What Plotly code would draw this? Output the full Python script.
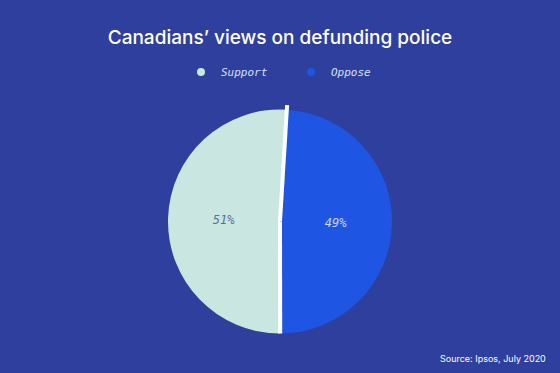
import math
import plotly.graph_objects as go

labels = ["Oppose", "Support"]
values = [49, 51]
colors = ["#1f55e3", "#c9e7e0"]
text_colors = ["#c8d6f2", "#5d6f9c"]
legend_order = ["Support", "Oppose"]
legend_colors = {"Support": "#c9e7e0", "Oppose": "#1f55e3"}

W, H = 560, 373
bg = "#2f3f9d"
mono = "DejaVu Sans Mono"
rotation = 3.5

dom_x = [0.3, 0.7]
dom_y = [1 - 334 / H, 1 - 109 / H]

fig = go.Figure()
fig.add_trace(go.Pie(
    labels=labels, values=values, sort=False, direction="clockwise", rotation=rotation,
    marker=dict(colors=colors, line=dict(width=0)),
    texttemplate="%{percent:.0%}", textposition="inside",
    insidetextorientation="horizontal",
    textfont=dict(family=mono, size=12, color=text_colors, style="italic"),
    showlegend=False, hoverinfo="label+percent",
    domain=dict(x=dom_x, y=dom_y),
))
for name in legend_order:
    fig.add_trace(go.Scatter(
        x=[None], y=[None], mode="markers", name=name,
        marker=dict(symbol="circle", size=8, color=legend_colors[name]),
    ))

# white separator lines along the slice boundaries (derived from the data)
cx = (dom_x[0] + dom_x[1]) / 2 * W
cy = (1 - (dom_y[0] + dom_y[1]) / 2) * H
r = min((dom_x[1] - dom_x[0]) * W, (dom_y[1] - dom_y[0]) * H) / 2
total = sum(values)
shapes = []
angle = rotation
for i, v in enumerate(values):
    rr = r * (1.04 if i == 0 else 1.0)
    a = math.radians(angle)
    px = cx + rr * math.sin(a)
    py = cy - rr * math.cos(a)
    shapes.append(dict(type="line", xref="paper", yref="paper",
                       x0=cx / W, y0=1 - cy / H, x1=px / W, y1=1 - py / H,
                       line=dict(color="white", width=4)))
    angle += 360 * v / total

fig.update_layout(
    width=W, height=H,
    margin=dict(l=0, r=0, t=0, b=0),
    paper_bgcolor=bg, plot_bgcolor=bg,
    xaxis=dict(visible=False), yaxis=dict(visible=False),
    shapes=shapes,
    title=dict(text="Canadians’ views on defunding police", x=0.5, xanchor="center",
               y=1 - 37 / H, yanchor="middle",
               font=dict(family="Inter", size=19, color="white", weight=500)),
    legend=dict(orientation="h", x=(201 - 20) / W, xanchor="left", y=1 - 72 / H, yanchor="middle",
                font=dict(family=mono, size=11, color="#d6e0f5", style="italic"),
                itemwidth=30, entrywidth=65, bgcolor="rgba(0,0,0,0)"),
    annotations=[dict(text="Source: Ipsos, July 2020", x=548 / W, xanchor="right",
                      y=1 - 358 / H, yanchor="middle", xref="paper", yref="paper",
                      showarrow=False, font=dict(family="Inter", size=9, color="white"))],
)

fig.write_html("out.html", config={"displayModeBar": False})
with open("out.html", encoding="utf-8") as f:
    html = f.read()
html = html.replace("<head>", "<head><style>html,body{margin:0;padding:0;background:%s;}</style>" % bg, 1)
with open("out.html", "w", encoding="utf-8") as f:
    f.write(html)
